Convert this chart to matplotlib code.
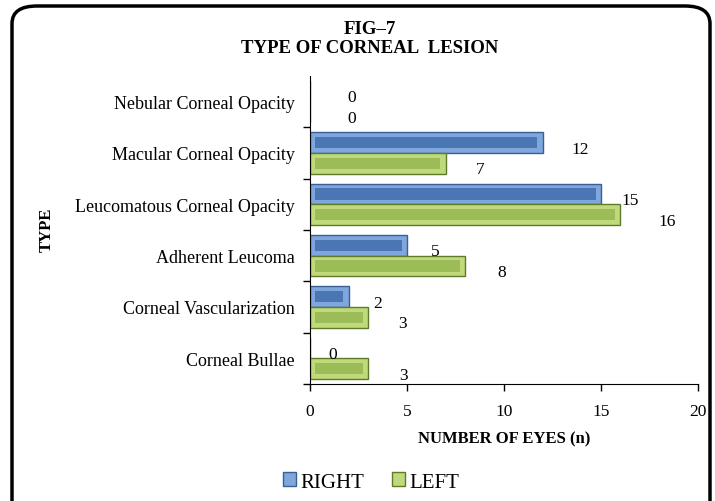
import matplotlib.pyplot as plt
from matplotlib.patches import FancyBboxPatch
import numpy as np

# data (top to bottom)
types = ["Nebular Corneal Opacity", "Macular Corneal Opacity",
         "Leucomatous Corneal Opacity", "Adherent Leucoma",
         "Corneal Vascularization", "Corneal Bullae"]
right_eye = [0, 12, 15, 5, 2, 0]
left_eye = [0, 7, 16, 8, 3, 3]

# where the value labels sit, in pixels right of the bar end
right_label_dx = [42, 37, 29, 28, 29, 23]
left_label_dx = [42, 34, 47, 36, 34, 35]

plt.rcParams["font.family"] = ["Liberation Serif", "DejaVu Serif"]

fig = plt.figure(figsize=(7.15, 5.02), dpi=100)
ax = fig.add_axes([310 / 715, 1 - 385 / 502, 388 / 715, 308 / 502])

y = np.arange(len(types))
h = 0.4
blue_light, blue_dark, blue_edge = "#7FA7DD", "#4A76B3", "#3A5F91"
green_light, green_dark, green_edge = "#C0D97A", "#9CBC58", "#5E7A2A"

r_bars = ax.barh(y - h / 2, right_eye, height=h, color=blue_light,
                 edgecolor=blue_edge, linewidth=1, label="RIGHT")
l_bars = ax.barh(y + h / 2, left_eye, height=h, color=green_light,
                 edgecolor=green_edge, linewidth=1, label="LEFT")

# inner face of the bevel
inset_x, inset_y = 0.28, 0.09
for vals, off, col in [(right_eye, -h / 2, blue_dark), (left_eye, h / 2, green_dark)]:
    v = np.array(vals, dtype=float)
    w = np.where(v > 0, np.maximum(v - 2 * inset_x, 0), 0)
    ax.barh(y + off, w, left=np.where(v > 0, inset_x, 0), height=h - 2 * inset_y,
            color=col, edgecolor="none")

# value labels
for i in range(len(types)):
    ax.annotate(str(right_eye[i]), (right_eye[i], y[i] - h / 2),
                xytext=(right_label_dx[i] * 0.72, -6 * 0.72), textcoords="offset points",
                ha="center", va="center", fontsize=12.5)
    ax.annotate(str(left_eye[i]), (left_eye[i], y[i] + h / 2),
                xytext=(left_label_dx[i] * 0.72, -6 * 0.72), textcoords="offset points",
                ha="center", va="center", fontsize=12.5)

ax.set_xlim(0, 20)
ax.set_ylim(len(types) - 0.5, -0.5)
ax.set_xticks([0, 5, 10, 15, 20])
ax.tick_params(axis="x", direction="out", length=5, width=1, labelsize=12.5, pad=9)

ax.set_yticks(y)
ax.set_yticklabels(types, fontsize=13)
ax.set_yticks(np.arange(len(types)) + 0.5, minor=True)
ax.tick_params(axis="y", which="major", length=0, pad=11)
ax.tick_params(axis="y", which="minor", length=5, width=1, direction="out")

for s in ["top", "right"]:
    ax.spines[s].set_visible(False)

ax.set_xlabel("NUMBER OF EYES (n)", fontsize=12, fontweight="bold")
ax.xaxis.set_label_coords(0.5, -0.15)
ax.set_ylabel("TYPE", fontsize=12, fontweight="bold")
ax.yaxis.set_label_coords(-0.657, 0.503)

fig.text(370 / 715, 1 - 39 / 502, "FIG\u20137\nTYPE OF CORNEAL  LESION",
         ha="center", va="center", fontsize=13.5, fontweight="bold", linespacing=1.2)

fig.legend(handles=[r_bars, l_bars], loc="center", bbox_to_anchor=(371 / 715, 1 - 483 / 502),
           ncol=2, frameon=False, fontsize=15, handlelength=0.65, handleheight=0.65,
           handletextpad=0.2, columnspacing=1.3)

# rounded border of the chart area
border = FancyBboxPatch((12 / 715, -0.1), 698 / 715, 1 - 7 / 502 + 0.1,
                        boxstyle="round,pad=0,rounding_size=0.035",
                        transform=fig.transFigure, fill=False,
                        edgecolor="black", linewidth=2.5, clip_on=False)
fig.patches.append(border)

fig.savefig("out.png", dpi=100)
